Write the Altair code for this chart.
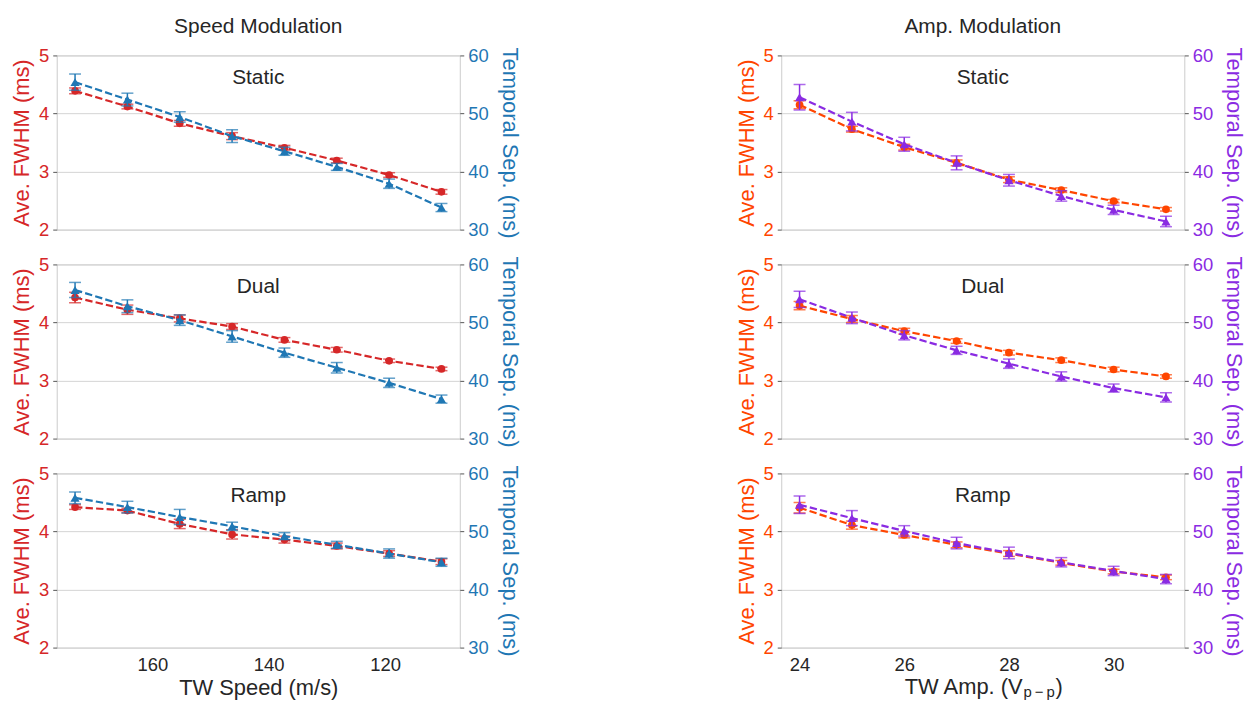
import altair as alt
import pandas as pd

# x positions
speed = [173.3, 164.3, 155.3, 146.3, 137.3, 128.3, 119.3, 110.3]
amp = [24, 25, 26, 27, 28, 29, 30, 31]

# Speed modulation: average FWHM (ms) and temporal separation (ms)
spd_static_fwhm = [4.39, 4.12, 3.83, 3.61, 3.41, 3.19, 2.94, 2.65]
spd_static_fwhm_err = [0.05, 0.04, 0.05, 0.06, 0.04, 0.04, 0.04, 0.04]
spd_static_sep = [55.4, 52.4, 49.4, 46.1, 43.5, 40.8, 37.9, 33.8]
spd_static_sep_err = [1.4, 1.1, 0.9, 1.1, 0.7, 0.6, 0.8, 0.7]

spd_dual_fwhm = [4.43, 4.22, 4.07, 3.93, 3.70, 3.53, 3.34, 3.20]
spd_dual_fwhm_err = [0.09, 0.08, 0.06, 0.05, 0.04, 0.04, 0.03, 0.03]
spd_dual_sep = [55.6, 52.8, 50.4, 47.6, 44.8, 42.2, 39.6, 36.8]
spd_dual_sep_err = [1.3, 1.1, 0.9, 1.0, 0.8, 0.9, 0.8, 0.7]

spd_ramp_fwhm = [4.42, 4.36, 4.13, 3.95, 3.86, 3.75, 3.62, 3.48]
spd_ramp_fwhm_err = [0.04, 0.04, 0.08, 0.08, 0.06, 0.05, 0.05, 0.05]
spd_ramp_sep = [55.8, 54.2, 52.5, 50.9, 49.2, 47.7, 46.2, 44.7]
spd_ramp_sep_err = [1.0, 1.0, 1.3, 0.7, 0.6, 0.6, 0.8, 0.7]

# Amplitude modulation
amp_static_fwhm = [4.15, 3.73, 3.42, 3.15, 2.86, 2.68, 2.49, 2.35]
amp_static_fwhm_err = [0.07, 0.05, 0.05, 0.05, 0.05, 0.04, 0.03, 0.03]
amp_static_sep = [52.8, 48.6, 44.7, 41.5, 38.5, 35.8, 33.4, 31.4]
amp_static_sep_err = [2.2, 1.6, 1.2, 1.2, 1.0, 0.9, 0.8, 0.9]

amp_dual_fwhm = [4.29, 4.06, 3.85, 3.68, 3.48, 3.35, 3.19, 3.07]
amp_dual_fwhm_err = [0.07, 0.06, 0.05, 0.04, 0.04, 0.04, 0.04, 0.03]
amp_dual_sep = [54.0, 50.8, 47.8, 45.2, 42.9, 40.7, 38.7, 37.1]
amp_dual_sep_err = [1.4, 1.0, 0.8, 0.7, 0.8, 0.8, 0.7, 0.8]

amp_ramp_fwhm = [4.41, 4.11, 3.94, 3.77, 3.62, 3.46, 3.31, 3.21]
amp_ramp_fwhm_err = [0.09, 0.07, 0.05, 0.05, 0.05, 0.04, 0.04, 0.04]
amp_ramp_sep = [54.6, 52.3, 50.1, 48.0, 46.3, 44.7, 43.2, 41.8]
amp_ramp_sep_err = [1.5, 1.3, 0.9, 1.0, 1.0, 0.8, 0.8, 0.8]

RED, BLUE = "#d62728", "#1f77b4"
ORANGE, PURPLE = "#ff4500", "#8a2be2"
DARK = "#262626"
W, H = 405, 175
FONT = "Liberation Sans"
TICK_FS, TITLE_FS = 18.5, 22


def y_axis(orient, values, title, color):
    return alt.Axis(
        orient=orient, values=values, title=title, titleColor=color,
        labelColor=color, titleFontSize=TITLE_FS, labelFontSize=TICK_FS,
        titleFontWeight="normal", grid=(orient == "left"), gridColor="#d4d4d4",
        domain=False, ticks=True, tickSize=4, tickColor="#555555",
        labelPadding=4, titlePadding=(5 if orient == "left" else 9),
    )


def series(df, x_enc, val, err, color, shape, size, domain, axis):
    d = df.assign(v=val, lo=[a - b for a, b in zip(val, err)],
                  hi=[a + b for a, b in zip(val, err)])
    scale = alt.Scale(domain=domain, nice=False, zero=False)
    base = alt.Chart(d).encode(x=x_enc)
    line = base.mark_line(color=color, strokeDash=[7.4, 3.2], strokeWidth=2.2).encode(
        y=alt.Y("v:Q", scale=scale, axis=axis))
    rule = base.mark_rule(color=color, strokeWidth=1.5).encode(
        y=alt.Y("lo:Q", scale=scale, axis=axis), y2="hi:Q")
    cap_lo = base.mark_tick(color=color, orient="horizontal", size=12, thickness=1.5).encode(
        y=alt.Y("lo:Q", scale=scale, axis=axis))
    cap_hi = base.mark_tick(color=color, orient="horizontal", size=12, thickness=1.5).encode(
        y=alt.Y("hi:Q", scale=scale, axis=axis))
    pts = base.mark_point(filled=True, shape=shape, size=size, color=color, opacity=1).encode(
        y=alt.Y("v:Q", scale=scale, axis=axis))
    return alt.layer(rule, cap_lo, cap_hi, line, pts)


def panel(xs, fwhm, fwhm_err, sep, sep_err, label, c1, c2, x_scale, x_axis,
          extra=None, title=None):
    df = pd.DataFrame({"x": xs})
    x_enc = alt.X("x:Q", scale=x_scale, axis=x_axis)
    left = series(df, x_enc, fwhm, fwhm_err, c1, "circle", 60, [2, 5],
                  y_axis("left", [2, 3, 4, 5], "Ave. FWHM (ms)", c1))
    right = series(df, x_enc, sep, sep_err, c2, "triangle-up", 85, [30, 60],
                   y_axis("right", [30, 40, 50, 60], "Temporal Sep. (ms)", c2))
    lab = alt.Chart(pd.DataFrame({"t": [label]})).mark_text(
        fontSize=21, color=DARK, baseline="middle", align="center").encode(
        text="t:N", x=alt.value(W / 2), y=alt.value(23))
    layers = [left, right, lab] + (extra or [])
    ch = alt.layer(*layers).resolve_scale(y="independent").properties(width=W, height=H)
    if title:
        ch = ch.properties(title=alt.TitleParams(title, fontSize=21, color=DARK,
                                                 fontWeight="normal", frame="group",
                                                 anchor="middle", offset=10))
    return ch


spd_scale = alt.Scale(domain=[107.15, 176.45], reverse=True, nice=False, zero=False)
amp_scale = alt.Scale(domain=[23.65, 31.35], nice=False, zero=False)

spd_xaxis = alt.Axis(values=[160, 140, 120], title="TW Speed (m/s)", grid=False,
                     domain=False, ticks=False, labelFontSize=TICK_FS, labelColor=DARK,
                     titleFontSize=TITLE_FS, titleFontWeight="normal", titleColor=DARK,
                     labelPadding=8, titlePadding=4)
amp_xaxis = alt.Axis(values=[24, 26, 28, 30], title=None, grid=False,
                     domain=False, ticks=False, labelFontSize=TICK_FS, labelColor=DARK,
                     labelPadding=8)

# x-axis title with a subscript, assembled from text pieces
amp_title_parts = pd.DataFrame({"t": ["TW Amp. (V"]})
amp_sub = pd.DataFrame({"t": ["p\u2009\u2212\u2009p"]})
amp_close = pd.DataFrame({"t": [")"]})
amp_title = [
    alt.Chart(amp_title_parts).mark_text(fontSize=TITLE_FS, color=DARK, align="right",
                                         baseline="middle").encode(
        text="t:N", x=alt.value(W / 2 + 40), y=alt.value(H + 40)),
    alt.Chart(amp_sub).mark_text(fontSize=15, color=DARK, align="left",
                                 baseline="middle").encode(
        text="t:N", x=alt.value(W / 2 + 41), y=alt.value(H + 45)),
    alt.Chart(amp_close).mark_text(fontSize=TITLE_FS, color=DARK, align="left",
                                   baseline="middle").encode(
        text="t:N", x=alt.value(W / 2 + 73), y=alt.value(H + 40)),
]

panels = [
    panel(speed, spd_static_fwhm, spd_static_fwhm_err, spd_static_sep, spd_static_sep_err,
          "Static", RED, BLUE, spd_scale, None, title="Speed Modulation"),
    panel(amp, amp_static_fwhm, amp_static_fwhm_err, amp_static_sep, amp_static_sep_err,
          "Static", ORANGE, PURPLE, amp_scale, None, title="Amp. Modulation"),
    panel(speed, spd_dual_fwhm, spd_dual_fwhm_err, spd_dual_sep, spd_dual_sep_err,
          "Dual", RED, BLUE, spd_scale, None),
    panel(amp, amp_dual_fwhm, amp_dual_fwhm_err, amp_dual_sep, amp_dual_sep_err,
          "Dual", ORANGE, PURPLE, amp_scale, None),
    panel(speed, spd_ramp_fwhm, spd_ramp_fwhm_err, spd_ramp_sep, spd_ramp_sep_err,
          "Ramp", RED, BLUE, spd_scale, spd_xaxis),
    panel(amp, amp_ramp_fwhm, amp_ramp_fwhm_err, amp_ramp_sep, amp_ramp_sep_err,
          "Ramp", ORANGE, PURPLE, amp_scale, amp_xaxis, extra=amp_title),
]

chart = alt.concat(*panels, columns=2, spacing={"column": 323, "row": 35},
                   bounds="flush").properties(
    padding={"left": 10, "top": 13, "right": 0, "bottom": 5}
).configure(font=FONT).configure_view(stroke="#cccccc", strokeWidth=1)

chart.save("out.html", embed_options={"renderer": "svg", "actions": False})
